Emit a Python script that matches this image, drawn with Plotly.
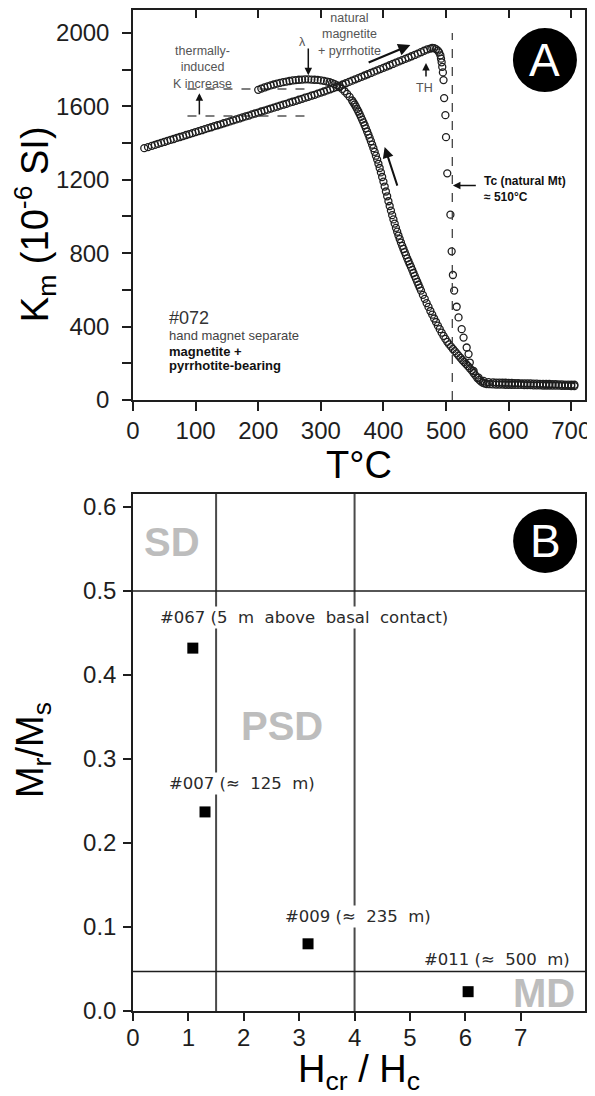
import plotly.graph_objects as go

# ---------------- Panel A : Km vs temperature (sample #072) ----------------
heat_T = [
    18, 24, 30, 35, 40, 45, 50, 55, 60, 65, 70, 75, 80, 85, 90, 95, 100,
    105, 110, 115, 120, 125, 130, 135, 140, 145, 150, 155, 160, 165, 170, 175, 180,
    185, 190, 195, 200, 205, 210, 215, 220, 225, 230, 235, 240, 245, 250, 255, 260,
    265, 270, 275, 280, 285, 290, 295, 300, 305, 310, 315, 320, 325, 330, 335, 340,
    345, 350, 355, 360, 365, 370, 375, 380, 385, 390, 395, 400, 405, 410, 415, 420,
    425, 430, 435, 440, 445, 450, 455, 460, 465, 470, 475, 478, 481, 484, 487, 489,
    491, 492, 493, 494, 495, 496, 497, 499, 500, 502, 507, 509, 511, 513, 517, 520,
    525, 528, 533, 536, 538, 544, 552, 560, 568, 575, 580, 585, 590, 595, 600, 605,
    610, 615, 620, 625, 630, 635, 640, 645, 650, 655, 660, 665, 670, 675, 680, 685,
    690, 695, 700, 705,
]
heat_K = [
    1372, 1378, 1385, 1390, 1396, 1401, 1406, 1412, 1417, 1422, 1428, 1433, 1438, 1444, 1449, 1454, 1460,
    1465, 1470, 1476, 1481, 1486, 1492, 1497, 1502, 1508, 1513, 1518, 1524, 1529, 1534, 1540, 1545,
    1550, 1556, 1561, 1566, 1572, 1577, 1582, 1588, 1593, 1598, 1604, 1609, 1614, 1620, 1625, 1630,
    1636, 1641, 1647, 1652, 1658, 1663, 1669, 1675, 1681, 1687, 1693, 1699, 1705, 1712, 1719, 1726,
    1733, 1740, 1747, 1754, 1761, 1768, 1775, 1782, 1789, 1796, 1803, 1810, 1817, 1824, 1831, 1838,
    1845, 1852, 1859, 1866, 1873, 1880, 1887, 1895, 1903, 1910, 1915, 1918, 1917, 1912, 1904, 1894,
    1878, 1860, 1840, 1815, 1785, 1743, 1645, 1552, 1432, 1235, 1010, 810, 681, 596, 508, 450,
    386, 340, 286, 250, 204, 158, 122, 104, 97, 96, 95, 95, 94, 94, 93, 93,
    92, 92, 91, 91, 90, 90, 89, 89, 88, 88, 87, 87, 86, 86, 85, 85,
    84, 84, 83, 83,
]
cool_T = [
    705, 700, 695, 690, 685, 680, 675, 670, 665, 660, 655, 650, 645, 640, 635, 630,
    625, 620, 615, 610, 605, 600, 595, 590, 585, 580, 575, 570, 565, 562, 559, 556,
    553, 550, 547, 544, 541, 538, 535, 532, 529, 526, 523, 520, 517, 514, 511, 508,
    505, 502, 499, 496, 493, 490, 487, 484, 481, 478, 475, 472, 469, 466, 463, 460,
    458, 456, 454, 452, 450, 448, 446, 444, 442, 440, 438, 436, 434, 432, 430, 428,
    426, 424, 422, 420, 418, 416, 414, 412, 410, 408, 406, 404, 402, 400, 398, 396,
    394, 392, 390, 388, 386, 384, 382, 380, 378, 376, 374, 372, 370, 368, 366, 364,
    362, 360, 358, 356, 354, 352, 350, 346, 342, 338, 334, 330, 326, 322, 318, 314,
    310, 305, 300, 295, 290, 285, 280, 275, 270, 265, 260, 255, 250, 245, 240, 235,
    230, 225, 220, 215, 210, 205, 200,
]
cool_K = [
    76, 76, 77, 77, 77, 78, 78, 78, 79, 79, 79, 80, 80, 80, 81, 81,
    81, 82, 82, 82, 83, 83, 83, 84, 84, 84, 85, 86, 87, 90, 94, 101,
    110, 120, 134, 147, 161, 173, 185, 196, 207, 218, 230, 242, 254, 266, 278, 291,
    303, 317, 333, 349, 367, 386, 405, 425, 444, 465, 485, 507, 528, 551, 573, 596,
    612, 628, 644, 660, 676, 692, 709, 725, 740, 756, 772, 789, 806, 823, 840, 858,
    877, 896, 917, 938, 961, 984, 1007, 1032, 1057, 1083, 1110, 1136, 1163, 1190, 1215, 1240,
    1264, 1287, 1310, 1331, 1352, 1372, 1391, 1410, 1428, 1446, 1463, 1480, 1497, 1513, 1528, 1543,
    1558, 1572, 1585, 1598, 1610, 1621, 1632, 1652, 1668, 1682, 1695, 1705, 1714, 1721, 1727, 1732,
    1735, 1739, 1742, 1744, 1745, 1746, 1747, 1747, 1746, 1745, 1743, 1741, 1738, 1735, 1732, 1728,
    1724, 1719, 1714, 1709, 1703, 1697, 1690,
]
tc_natural_mt = 510            # Curie temperature of natural magnetite
k_increase_levels = [1547, 1694]   # K before / after thermally-induced increase
k_increase_span = [87, 282]        # temperature span of those reference levels
lambda_T = 280                 # lambda transition marker
th_T = 468                     # Hopkinson peak marker

a_xticks = [0, 100, 200, 300, 400, 500, 600, 700]
a_yticks = [0, 400, 800, 1200, 1600, 2000]
a_yminor = [200, 600, 1000, 1400, 1800]

# ---------------- Panel B : Day plot ----------------
samples = ["#067", "#007", "#009", "#011"]
sample_notes = ["(5\u00a0\u00a0m\u00a0\u00a0above\u00a0\u00a0basal\u00a0\u00a0contact)",
                "(\u2248\u00a0\u00a0125\u00a0\u00a0m)", "(\u2248\u00a0\u00a0235\u00a0\u00a0m)",
                "(\u2248\u00a0\u00a0500\u00a0\u00a0m)"]
hcr_hc = [1.08, 1.30, 3.16, 6.05]
mr_ms = [0.432, 0.237, 0.080, 0.023]
hc_bounds = [1.5, 4.0]
m_bounds = [0.5, 0.047]
domain_names = ["SD", "PSD", "MD"]
b_xticks = [0, 1, 2, 3, 4, 5, 6, 7]
b_yticks = [0.0, 0.1, 0.2, 0.3, 0.4, 0.5, 0.6]

# ---------------- styling ----------------
FONT = "Liberation Sans, Arial, Helvetica, sans-serif"
LFONT = "DejaVu Sans, Verdana, sans-serif"
INK = "#1e1e1e"
GRAYTXT = "#555555"
DOMAIN_GRAY = "#bdbdbd"

fig = go.Figure()
circ = dict(symbol="circle-open", size=7, color=INK, line=dict(width=1.3))
fig.add_trace(go.Scatter(x=heat_T, y=heat_K, mode="markers", marker=circ, name="heating",
                         xaxis="x", yaxis="y", showlegend=False))
fig.add_trace(go.Scatter(x=cool_T, y=cool_K, mode="markers", marker=circ, name="cooling",
                         xaxis="x", yaxis="y", showlegend=False))
fig.add_trace(go.Scatter(x=[None], y=[None], xaxis="x3", yaxis="y", showlegend=False,
                         hoverinfo="skip"))
fig.add_trace(go.Scatter(x=hcr_hc, y=mr_ms, mode="markers", text=samples, name="samples",
                         marker=dict(symbol="square", size=11, color="black"),
                         xaxis="x2", yaxis="y2", showlegend=False))

tickfont = dict(family=FONT, size=24, color=INK)
titlefont = dict(family=FONT, size=38, color="black")
base = dict(showgrid=False, zeroline=False, showline=True, linecolor=INK, linewidth=1.5,
            mirror=True, ticks="outside", tickcolor=INK, tickwidth=1.5, tickfont=tickfont,
            automargin=False, ticklabeloverflow="allow")

# the page body adds an 8 px offset, so the figure is 8 px smaller and margins shifted
fig.update_layout(
    width=587, height=1088,
    margin=dict(l=125, r=10, t=2, b=85),
    paper_bgcolor="white", plot_bgcolor="white",
    showlegend=False,
    xaxis=dict(base, domain=[0, 1], anchor="y", range=[0, 722], tickvals=a_xticks, ticklen=9,
               ticklabelstandoff=-1,
               title=dict(text="T\u00b0C", font=titlefont, standoff=4)),
    yaxis=dict(base, domain=[0.6104, 1], anchor="x", range=[0, 2125], tickvals=a_yticks,
               ticklen=9, ticklabelstandoff=8,
               minor=dict(tickvals=a_yminor, ticks="outside", ticklen=9, tickcolor=INK, tickwidth=1.5)),
    xaxis3=dict(overlaying="x", anchor="y", side="top", range=[0, 722], tickvals=a_xticks[1:],
                ticks="inside", ticklen=8, tickcolor=INK, tickwidth=1.5, showticklabels=False,
                showline=False, showgrid=False, zeroline=False),
    xaxis2=dict(base, domain=[0, 1], anchor="y2", range=[0, 8.16], tickvals=b_xticks, ticklen=8,
                ticklabelstandoff=-4,
                title=dict(text="H<sub>cr</sub> / H<sub>c</sub>", font=titlefont, standoff=16)),
    yaxis2=dict(base, domain=[0, 0.5165], anchor="x2", range=[0, 0.6155], tickvals=b_yticks,
                tickformat=".1f", ticklen=8, ticklabelstandoff=2),
)

shapes = []
# Panel A
shapes.append(dict(type="line", xref="x", yref="y", x0=tc_natural_mt, x1=tc_natural_mt, y0=0, y1=2000,
                   line=dict(color="#333", width=1.2, dash="dash")))
for lev in k_increase_levels:
    shapes.append(dict(type="line", xref="x", yref="y", x0=k_increase_span[0], x1=k_increase_span[1],
                       y0=lev, y1=lev, line=dict(color="#555", width=1.5, dash="dash"), layer="below"))
shapes.append(dict(type="circle", xref="x", yref="y", xsizemode="pixel", ysizemode="pixel",
                   xanchor=658, yanchor=1852, x0=-32, x1=32, y0=-32, y1=32,
                   fillcolor="black", line=dict(width=0)))
# Panel B
for hb in hc_bounds:
    shapes.append(dict(type="line", xref="x2", yref="y2 domain", x0=hb, x1=hb, y0=0, y1=1,
                       line=dict(color="#4a4a4a", width=2), layer="below"))
for mb in m_bounds:
    shapes.append(dict(type="line", xref="x2 domain", yref="y2", x0=0, x1=1, y0=mb, y1=mb,
                       line=dict(color=INK, width=1.5), layer="below"))
shapes.append(dict(type="circle", xref="x2", yref="y2", xsizemode="pixel", ysizemode="pixel",
                   xanchor=7.44, yanchor=0.5595, x0=-32, x1=32, y0=-32, y1=32,
                   fillcolor="black", line=dict(width=0)))
fig.update_layout(shapes=shapes)

ann = []


def txt(x, y, t, size=12, color=GRAYTXT, xr="x", yr="y", family=FONT, xanchor="center", **kw):
    ann.append(dict(x=x, y=y, xref=xr, yref=yr, text=t, showarrow=False, xanchor=xanchor,
                    yanchor="middle", font=dict(family=family, size=size, color=color), **kw))


def arrow(x, y, ax, ay, width=1.5, size=1.0):
    ann.append(dict(x=x, y=y, ax=ax, ay=ay, xref="x", yref="y", axref="x", ayref="y", text="",
                    showarrow=True, arrowhead=2, arrowsize=size, arrowwidth=width,
                    arrowcolor="#111", standoff=0, startstandoff=0))


# axis titles placed as rotated annotations (paper coords)
txt(-0.2168, 0.786, "K<sub>m</sub> (10<sup>-6</sup> SI)", size=38, color="black", xr="paper",
    yr="paper", textangle=-90)
txt(-0.2212, 0.2607, "M<sub>r</sub>/M<sub>s</sub>", size=38, color="black", xr="paper",
    yr="paper", textangle=-90)

# Panel A annotations
txt(111, 1814, "thermally-<br>induced<br>K increase", size=12.5)
arrow(106, 1672, 106, k_increase_levels[0])
txt(271, 1951, "\u03bb", size=12.5)
arrow(lambda_T, 1770, lambda_T, 1923)
txt(346, 1989, "natural<br>magnetite<br>+ pyrrhotite", size=12.5)
arrow(443, 1934, 374, 1836, width=2.2, size=1.1)
arrow(th_T, 1836, th_T, 1754)
txt(466, 1700, "TH", size=12.5)
arrow(402, 1379, 423, 1160, width=2.0, size=1.1)
arrow(tc_natural_mt + 1, 1169, 550, 1169)
txt(558, 1150, "<b>Tc (natural Mt)<br>\u2248 510\u00b0C</b>", size=12, color="#111", xanchor="left",
    align="left")
txt(55, 448, "#072", size=18, color="#333", xanchor="left")
txt(55, 350, "hand magnet separate", size=13, color="#444", xanchor="left")
txt(55, 262, "<b>magnetite +</b>", size=13, color="#111", xanchor="left")
txt(55, 186, "<b>pyrrhotite-bearing</b>", size=13, color="#111", xanchor="left")
txt(658, 1852, "A", size=46, color="white")

# Panel B annotations
note_pos = [(3.08, 0.468, "center", True), (1.97, 0.271, "center", True),
            (4.06, 0.112, "center", True), (7.92, 0.061, "right", False)]
for s, n, (px, py, anc, bg) in zip(samples, sample_notes, note_pos):
    extra = dict(bgcolor="white", borderpad=1) if bg else {}
    txt(px, py, s + "\u00a0" + n, size=16.5, color="#2a2a2a", xr="x2", yr="y2", family=LFONT,
        xanchor=anc, **extra)
dom_pos = [(0.70, 0.558), (2.69, 0.339), (7.42, 0.021)]
for name, (px, py) in zip(domain_names, dom_pos):
    txt(px, py, "<b>" + name + "</b>", size=40, color=DOMAIN_GRAY, xr="x2", yr="y2")
txt(7.44, 0.5595, "B", size=46, color="white", xr="x2", yr="y2")

fig.update_layout(annotations=ann)
fig.write_html("out.html")
